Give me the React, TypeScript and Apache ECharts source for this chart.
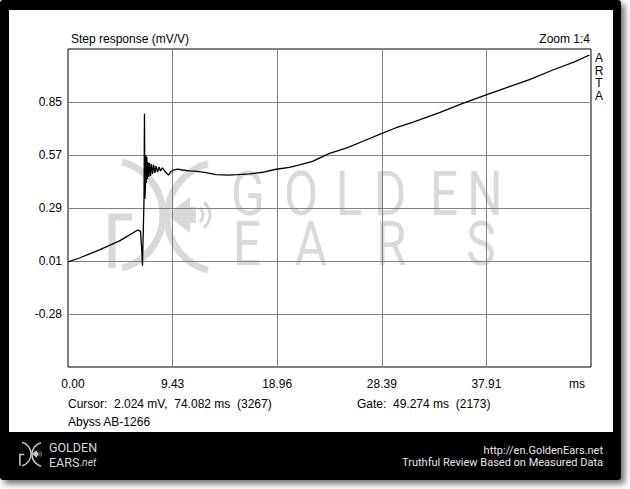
import React, { useEffect, useRef } from "react";
import * as echarts from "echarts";

// ---- data ----
const stepTimeMs = [
  0, 1.04, 2.85, 4.67, 6.33, 6.57, 6.69, 6.75, 6.89, 6.93, 6.97, 7.02, 7.05, 7.1, 7.14, 7.19, 7.25, 7.31,
  7.39, 7.48, 7.57, 7.66, 7.77, 7.87, 7.98, 8.11, 8.25, 8.38, 8.56, 8.84, 9.11, 9.29, 9.56, 9.92, 10.38,
  11.01, 11.65, 12.37, 13.43, 14.46, 15.36, 16.45, 17.63, 18.87, 20.07, 20.98, 22.16, 23.7, 25.21, 26.69,
  28.23, 29.68, 31.22, 33.67, 35.78, 37.9, 40.01, 41.82, 43.94, 45.9, 47.26,
];
const stepValue = [
  0.005, 0.026, 0.069, 0.117, 0.175, 0.168, 0.065, -0.015, 0.34, 0.795, 0.34, 0.415, 0.575, 0.426, 0.564,
  0.447, 0.538, 0.458, 0.532, 0.463, 0.527, 0.474, 0.522, 0.479, 0.516, 0.484, 0.511, 0.49, 0.506, 0.484,
  0.468, 0.484, 0.495, 0.5, 0.495, 0.49, 0.488, 0.482, 0.47, 0.468, 0.47, 0.474, 0.483, 0.499, 0.509, 0.522,
  0.541, 0.584, 0.612, 0.647, 0.685, 0.719, 0.749, 0.801, 0.85, 0.896, 0.94, 0.977, 1.028, 1.071, 1.108,
];
const xTickLabels = ["0.00", "9.43", "18.96", "28.39", "37.91", "ms"];
const xStep = 9.48;
const yTickLabels = ["", "-0.28", "0.01", "0.29", "0.57", "0.85", ""];
const yMin = -0.555;
const yMax = 1.14;
const watermarkTop = ["G", "O", "L", "D", "E", "N"];
const watermarkBottom = ["E", "A", "R", "S"];

const FONT = '"Liberation Sans", Arial, sans-serif';
const WM = "#d9d9d9";

export default function App() {
  const ref = useRef<HTMLDivElement>(null);

  useEffect(() => {
    document.body.style.margin = "0";
    if (!ref.current) return;
    const chart = echarts.init(ref.current, undefined, { renderer: "svg" });

    const data = stepTimeMs.map((t, i) => [t, stepValue[i]]);

    const topX = [248, 301, 349, 390, 444, 485];
    const botX = [247, 311, 391, 481];

    const wmLetters: any[] = [];
    watermarkTop.forEach((l, i) =>
      wmLetters.push({
        type: "text",
        x: topX[i],
        y: 194,
        scaleX: 0.8,
        z: -5,
        silent: true,
        style: {
          text: l, fill: WM, fontSize: 62, fontFamily: "Roboto, sans-serif",
          align: "center", verticalAlign: "middle", textAlign: "center", textVerticalAlign: "middle",
        },
      })
    );
    watermarkBottom.forEach((l, i) =>
      wmLetters.push({
        type: "text",
        x: botX[i],
        y: 244,
        scaleX: 0.8,
        z: -5,
        silent: true,
        style: {
          text: l, fill: WM, fontSize: 62, fontFamily: "Roboto, sans-serif",
          align: "center", verticalAlign: "middle", textAlign: "center", textVerticalAlign: "middle",
        },
      })
    );

    const logo = (ox: number, oy: number, s: number, color: string, z: number) => {
      const lw = 7 * s;
      return [
        { type: "arc", z, silent: true, shape: { cx: ox + 0 * s, cy: oy, r: 55 * s, startAngle: -1.31, endAngle: 1.31 }, style: { stroke: color, lineWidth: lw, fill: "none" } },
        { type: "arc", z, silent: true, shape: { cx: ox + 114 * s, cy: oy + 2 * s, r: 55 * s, startAngle: 1.83, endAngle: 4.45 }, style: { stroke: color, lineWidth: lw, fill: "none" } },
        { type: "polyline", z, silent: true, shape: { points: [[ox + 24 * s, oy + 2 * s], [ox + 4 * s, oy + 2 * s], [ox + 4 * s, oy + 53 * s]] }, style: { stroke: color, lineWidth: lw, fill: "none" } },
        { type: "polygon", z, silent: true, shape: { points: [[ox + 59 * s, oy], [ox + 82 * s, oy - 18 * s], [ox + 82 * s, oy + 18 * s]] }, style: { fill: color } },
        { type: "rect", z, silent: true, shape: { x: ox + 82 * s, y: oy - 8 * s, width: 6 * s, height: 16 * s }, style: { fill: color } },
        { type: "arc", z, silent: true, shape: { cx: ox + 86 * s, cy: oy, r: 9 * s, startAngle: -0.9, endAngle: 0.9 }, style: { stroke: color, lineWidth: 3 * s, fill: "none" } },
        { type: "arc", z, silent: true, shape: { cx: ox + 86 * s, cy: oy, r: 16 * s, startAngle: -0.9, endAngle: 0.9 }, style: { stroke: color, lineWidth: 3 * s, fill: "none" } },
      ];
    };

    const txt = (text: string, x: number, y: number, extra: any = {}) => ({
      type: "text",
      x,
      y,
      silent: true,
      style: {
        text, fill: "#000", fontSize: 12, fontFamily: FONT,
        align: "left", verticalAlign: "middle", textAlign: "left", textVerticalAlign: "middle",
        ...extra,
      },
    });

    const option: any = {
      animation: false,
      backgroundColor: "#fff",
      grid: {
        left: 68, top: 49, right: 39, bottom: 122,
        show: true, borderColor: "#000", borderWidth: 1, backgroundColor: "transparent",
      },
      xAxis: {
        type: "value", min: 0, max: xStep * 5, interval: xStep,
        axisLine: { show: false }, axisTick: { show: false },
        splitLine: { show: true, showMinLine: false, showMaxLine: false, lineStyle: { color: "#808080", width: 1 } },
        axisLabel: {
          margin: 11, color: "#000", fontSize: 12, fontFamily: FONT,
          formatter: (v: number) => {
            const i = Math.round(v / xStep);
            if (i === 0) return "{first|" + xTickLabels[0] + "}";
            if (i === 5) return "{last|" + xTickLabels[5] + "}";
            return xTickLabels[i] ?? "";
          },
          rich: {
            first: { padding: [0, 0, 0, 10], color: "#000", fontSize: 12, fontFamily: FONT },
            last: { padding: [0, 28, 0, 0], color: "#000", fontSize: 12, fontFamily: FONT },
          },
        },
      },
      yAxis: [
        { type: "value", min: yMin, max: yMax, show: false },
        {
          type: "value", min: 0, max: 6, interval: 1, position: "left",
          axisLine: { show: false }, axisTick: { show: false },
          splitLine: { show: true, showMinLine: false, showMaxLine: false, lineStyle: { color: "#808080", width: 1 } },
          axisLabel: {
            margin: 6, color: "#000", fontSize: 12, fontFamily: FONT,
            formatter: (v: number) => yTickLabels[Math.round(v)] ?? "",
          },
        },
      ],
      series: [
        {
          type: "line", yAxisIndex: 0, data, showSymbol: false, z: 5,
          lineStyle: { color: "#000", width: 1.3 }, silent: true,
        },
      ],
      graphic: [
        {
          type: "rect", z: -20, silent: true,
          shape: { x: 0, y: 0, width: 621, height: 480, r: 3 },
          style: { fill: "#000", shadowBlur: 6, shadowOffsetX: 4, shadowOffsetY: 4, shadowColor: "rgba(0,0,0,0.55)" },
        },
        { type: "rect", z: -19, silent: true, shape: { x: 9, y: 10, width: 604, height: 422 }, style: { fill: "#fff" } },
        ...logo(108, 215, 1, WM, -5),
        ...wmLetters,
        txt("Step response (mV/V)", 71, 39),
        txt("Zoom 1:4", 590, 39, { align: "right", textAlign: "right" }),
        txt("A\nR\nT\nA", 599, 77, { align: "center", textAlign: "center", lineHeight: 12.5 }),
        txt("Cursor:  2.024 mV,  74.082 ms  (3267)", 68, 404),
        txt("Gate:  49.274 ms  (2173)", 357, 404),
        txt("Abyss AB-1266", 68, 422),
        ...logo(19, 454, 0.22, "#c8c8c8", 1),
        txt("GOLDEN", 49, 447.5, { fill: "#d8d8d8", fontSize: 12.5, fontFamily: "Roboto, sans-serif" }),
        {
          type: "text", x: 49, y: 462.5, silent: true,
          style: {
            text: "{a|EARS}{b|.net}", fill: "#d8d8d8",
            align: "left", verticalAlign: "middle", textAlign: "left", textVerticalAlign: "middle",
            rich: {
              a: { fill: "#d8d8d8", fontSize: 12.5, fontFamily: "Roboto, sans-serif" },
              b: { fill: "#d8d8d8", fontSize: 10.5, fontStyle: "italic", fontFamily: "Roboto, sans-serif" },
            },
          },
        },
        txt("http://en.GoldenEars.net\nTruthful Review Based on Measured Data", 603, 456, { align: "right", textAlign: "right", fill: "#e6e6e6", fontSize: 11, lineHeight: 12, fontFamily: "Roboto, sans-serif" }),
      ],
    };

    chart.setOption(option);
    return () => chart.dispose();
  }, []);

  return <div ref={ref} style={{ width: 630, height: 489 }} />;
}
